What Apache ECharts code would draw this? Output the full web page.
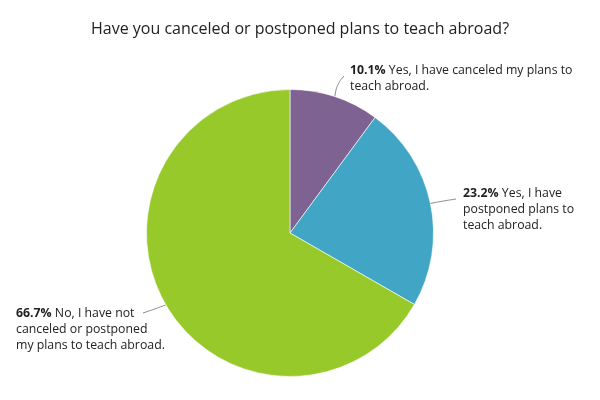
<!DOCTYPE html>
<html>
<head>
<meta charset="utf-8">
<script src="https://cdn.jsdelivr.net/npm/echarts@6/dist/echarts.min.js"></script>
<style>html,body{margin:0;padding:0;background:#fff}#c{width:600px;height:400px}</style>
</head>
<body>
<div id="c"></div>
<script>
const titleText = "Have you canceled or postponed plans to teach abroad?";
const categories = [
  "Yes, I have canceled my plans to teach abroad.",
  "Yes, I have postponed plans to teach abroad.",
  "No, I have not canceled or postponed my plans to teach abroad."
];
const values = [10.1, 23.2, 66.7];
const labelLines = [
  ["Yes, I have canceled my plans to", "teach abroad."],
  ["Yes, I have", "postponed plans to", "teach abroad."],
  ["No, I have not", "canceled or postponed", "my plans to teach abroad."]
];
const colors = ["#7e6291", "#41a5c5", "#98c92b"];

// layout (styling only): label top-left and guide line end
const labelPos = [[350, 62], [463, 185], [16, 305]];
const lineEnd = [[344, 76], [456, 199], [143, 313]];
const lineMid = [[337, 84], [443, 201], [155, 309]];

const FS = 12.3;
const chart = echarts.init(document.getElementById('c'));
chart.setOption({
  animation: false,
  title: {
    text: titleText,
    left: 'center',
    top: 16,
    textStyle: {fontFamily: 'Open Sans', fontSize: 16, fontWeight: 'normal', color: '#222'}
  },
  series: [{
    type: 'pie',
    center: [290, 233],
    radius: 143.5,
    startAngle: 90,
    clockwise: true,
    itemStyle: {borderColor: '#fff', borderWidth: 0.6},
    label: {
      show: true,
      position: 'outside',
      overflow: 'none',
      width: 400,
      fontFamily: 'Open Sans',
      fontSize: FS,
      lineHeight: 16,
      color: '#222',
      formatter: function (p) {
        const ls = labelLines[p.dataIndex];
        return ls.map((l, k) => k === 0 ? '{b|' + p.value.toFixed(1) + '%} {n|' + l + '}' : '{n|' + l + '}').join('\n');
      },
      rich: {
        b: {fontFamily: 'Open Sans', fontSize: FS, fontWeight: 'bold', color: '#222', lineHeight: 16},
        n: {fontFamily: 'Open Sans', fontSize: FS, color: '#222', lineHeight: 16}
      }
    },
    labelLine: {show: true, smooth: 0.4, lineStyle: {color: '#888', width: 1}},
    labelLayout: function (params) {
      const i = params.dataIndex;
      const pts = params.labelLinePoints;
      const start = pts ? pts[0] : lineMid[i];
      return {
        x: labelPos[i][0],
        y: labelPos[i][1],
        align: 'left',
        verticalAlign: 'top',
        labelLinePoints: [start, lineMid[i], lineEnd[i]]
      };
    },
    data: categories.map((c, i) => ({name: c, value: values[i], itemStyle: {color: colors[i]}}))
  }]
});
</script>
</body>
</html>
